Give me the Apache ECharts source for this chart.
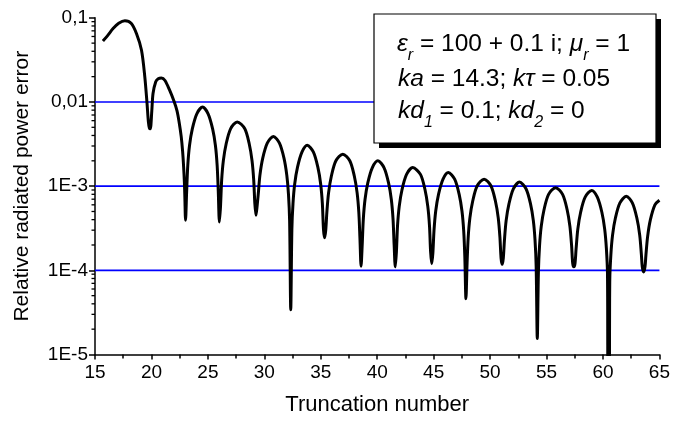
<!DOCTYPE html>
<html><head><meta charset="utf-8">
<script src="https://cdn.jsdelivr.net/npm/echarts@6/dist/echarts.min.js"></script>
<style>html,body{margin:0;padding:0;background:#fff}#chart{width:673px;height:424px}</style>
</head><body><div id="chart"></div>
<script>
// ---- data ----
const truncation = [
 15.7,16.1,16.6,17.1,17.65,18.2,18.68,19.12,19.41,19.61,19.73,19.82,19.9,
 20.03,20.14,20.38,20.6,20.88,21.2,21.61,22.0,22.26,22.45,22.64,22.76,22.85,22.92,22.96,23.02,
 23.12,23.22,23.37,23.62,24.02,24.53,25.02,25.42,25.67,25.82,25.92,26.02,
 26.12,26.22,26.37,26.62,27.02,27.6,28.26,28.66,28.91,29.06,29.16,29.26,
 29.36,29.46,29.61,29.86,30.26,30.8,31.34,31.74,31.99,32.14,32.24,32.34,
 32.44,32.54,32.69,32.94,33.34,33.8,34.34,34.74,34.99,35.14,35.24,35.34,
 35.44,35.54,35.69,35.94,36.34,36.95,37.57,37.97,38.22,38.37,38.47,38.57,
 38.67,38.77,38.92,39.17,39.57,40.06,40.6,41.0,41.25,41.4,41.5,41.6,
 41.7,41.8,41.95,42.2,42.6,43.15,43.83,44.23,44.48,44.63,44.73,44.83,
 44.93,45.03,45.18,45.43,45.83,46.3,46.86,47.26,47.51,47.66,47.76,47.86,
 47.96,48.06,48.21,48.46,48.86,49.47,50.07,50.47,50.72,50.87,50.97,51.07,
 51.17,51.27,51.42,51.67,52.07,52.6,53.18,53.58,53.83,53.98,54.08,54.18,
 54.28,54.38,54.53,54.78,55.18,55.8,56.42,56.82,57.07,57.22,57.32,57.42,
 57.52,57.62,57.77,58.02,58.42,59.0,59.5,59.9,60.15,60.3,60.4,60.45,60.55,
 60.6,60.7,60.85,61.1,61.5,62.06,62.6,63.0,63.25,63.4,63.48,63.6,63.72,
 63.8,63.95,64.2,64.6,65.0
];
const powerError = [
 0.053,0.061,0.0745,0.086,0.092,0.086,0.0646,0.0411,0.020,0.0096,0.0058,0.0049,0.0048,
 0.0078,0.0126,0.0174,0.0189,0.0193,0.0180,0.0138,0.0102,0.0079,0.0058,0.00385,0.0026,0.0017,0.0011,0.00074,0.000394,
 0.00087,0.00177,0.00302,0.00479,0.00724,0.0087,0.00724,0.00479,0.00302,0.00177,0.00087,0.000376,
 0.00058,0.00118,0.00201,0.00319,0.00483,0.0058,0.00483,0.00319,0.00201,0.00118,0.00062,0.00045,
 0.00058,0.0008,0.00135,0.00215,0.00324,0.0039,0.00324,0.00215,0.00135,0.0008,0.00039,0.000034,
 0.000306,0.000624,0.00106,0.00168,0.00255,0.00306,0.00255,0.00168,0.00106,0.000624,0.000306,0.000243,
 0.0003,0.00049,0.000833,0.00132,0.002,0.0024,0.002,0.00132,0.000833,0.00049,0.00024,0.000112,
 0.0002,0.000408,0.000694,0.0011,0.00166,0.002,0.00166,0.0011,0.000694,0.000408,0.0002,0.00011,
 0.000166,0.000339,0.000576,0.000913,0.00138,0.00166,0.00138,0.000913,0.000576,0.000339,0.000166,0.00012,
 0.00016,0.000296,0.000503,0.000798,0.00121,0.00145,0.00121,0.000798,0.000503,0.000296,0.000145,0.000046,
 0.000121,0.000247,0.00042,0.000666,0.00101,0.00121,0.00101,0.000666,0.00042,0.000247,0.00014,0.000118,
 0.00014,0.000228,0.000389,0.000616,0.000932,0.00112,0.000932,0.000616,0.000389,0.000228,0.000112,0.0000155,
 0.000096,0.000196,0.000333,0.000528,0.000799,0.00096,0.000799,0.000528,0.000333,0.000196,0.00012,0.00011,
 0.00012,0.000182,0.000309,0.00049,0.00074,0.00089,0.00074,0.00049,0.000309,0.000182,0.000089,0.000003,0.000003,
 0.000076,0.000155,0.000264,0.000418,0.000632,0.00076,0.000632,0.000418,0.000264,0.000155,0.00011,0.0000955,0.00011,
 0.00015,0.00025,0.0004,0.0006,0.00068
];
const xTickLabels = ['15','20','25','30','35','40','45','50','55','60','65'];
const yTickLabels = ['1E-5','1E-4','1E-3','0,01','0,1'];
const yGridValues = [0.01, 0.001, 0.0001];
const yMinorTickValues = [];
[1e-5,1e-4,1e-3,1e-2].forEach(d => { for (let m = 2; m <= 9; m++) yMinorTickValues.push(m * d); });
const xAxisTitle = 'Truncation number';
const yAxisTitle = 'Relative radiated power error';
const legendLines = [
  [{t:'ε',i:1},{t:'r',i:1,s:1},{t:' = 100 + 0.1 i; '},{t:'μ',i:1},{t:'r',i:1,s:1},{t:' = 1'}],
  [{t:'ka',i:1},{t:' = 14.3; '},{t:'kτ',i:1},{t:' = 0.05'}],
  [{t:'kd',i:1},{t:'1',i:1,s:1},{t:' = 0.1; '},{t:'kd',i:1},{t:'2',i:1,s:1},{t:' = 0'}]
];

// ---- rendering ----
const FF = "'Liberation Sans', Arial, sans-serif";
const X_MIN = 15, X_MAX = 65;
const chart = echarts.init(document.getElementById('chart'), null, {renderer:'canvas'});

const mctx = document.createElement('canvas').getContext('2d');
function measure(t, size, italic) {
  mctx.font = (italic ? 'italic ' : '') + size + 'px ' + FF;
  return mctx.measureText(t).width;
}
const BIG = 24.5, SUB = 16;
const box = {x:374, y:14, w:282, h:129};
const lineBaselines = [52, 87, 119];
const lineStarts = [397, 398, 398];
const graphics = [
  {type:'rect', z:100, shape:{x:box.x+5, y:box.y+5, width:box.w, height:box.h}, style:{fill:'#000'}},
  {type:'rect', z:101, shape:{x:box.x, y:box.y, width:box.w, height:box.h}, style:{fill:'#fff', stroke:'#000', lineWidth:1.2}}
];
legendLines.forEach((segs, li) => {
  let x = lineStarts[li];
  segs.forEach(sg => {
    const size = sg.s ? SUB : BIG;
    const w = measure(sg.t, size, sg.i);
    const base = lineBaselines[li] + (sg.s ? 8 : 0);
    graphics.push({type:'text', z:102, x: x, y: base + 0.21 * size,
      style:{text: sg.t, fontSize: size, fontFamily: FF, fontStyle: sg.i ? 'italic' : 'normal',
        fill:'#000', align:'left', verticalAlign:'bottom'}});
    x += w;
  });
});

const option = {
  animation: false,
  backgroundColor: '#fff',
  grid: {left:95, right:11, top:17.8, bottom:69.5, containLabel:false},
  xAxis: {
    type:'value', min:X_MIN, max:X_MAX, interval:5,
    name: xAxisTitle, nameLocation:'middle', nameGap:39,
    nameTextStyle:{fontSize:22, color:'#000', fontFamily:FF},
    axisLine:{show:true, onZero:false, lineStyle:{color:'#000', width:1.5}},
    axisTick:{show:true, length:5, lineStyle:{color:'#000', width:1.5}},
    minorTick:{show:true, splitNumber:2, length:4, lineStyle:{color:'#000', width:1.5}},
    axisLabel:{fontSize:19, color:'#000', margin:9, fontFamily:FF,
      formatter: v => xTickLabels[Math.round((v - 15) / 5)]},
    splitLine:{show:false}
  },
  yAxis: {
    type:'log', logBase:10, min:1e-5, max:0.1,
    name: yAxisTitle, nameLocation:'middle', nameGap:62, nameRotate:90,
    nameTextStyle:{fontSize:21, color:'#000', fontFamily:FF},
    axisLine:{show:true, lineStyle:{color:'#000', width:1.5}},
    axisTick:{show:true, length:6, lineStyle:{color:'#000', width:1.5}},
    axisLabel:{fontSize:19, color:'#000', margin:7, fontFamily:FF,
      formatter: v => yTickLabels[Math.round(Math.log10(v)) + 5]},
    splitLine:{show:false}
  },
  series: [
    {type:'custom', data: yGridValues.map(v => [X_MIN, v]), clip:false, silent:true, z:1,
     renderItem: (params, api) => {
       const a = api.coord([X_MIN, api.value(1)]);
       const b = api.coord([X_MAX, api.value(1)]);
       return {type:'line', shape:{x1:a[0], y1:a[1], x2:b[0], y2:b[1]}, style:{stroke:'#0000ff', lineWidth:1.6}};
     }},
    {type:'line', data: truncation.map((x, i) => [x, powerError[i]]), showSymbol:false, symbol:'none',
     smooth:0.3, clip:true, lineStyle:{color:'#000', width:3}, z:3, silent:true},
    {type:'custom', data: yMinorTickValues.map(v => [X_MIN, v]), clip:false, silent:true, z:4,
     renderItem: (params, api) => {
       const p = api.coord([X_MIN, api.value(1)]);
       return {type:'line', shape:{x1:p[0]-3.5, y1:p[1], x2:p[0], y2:p[1]}, style:{stroke:'#000', lineWidth:1.3}};
     }}
  ],
  graphic: graphics
};
chart.setOption(option);
</script></body></html>
